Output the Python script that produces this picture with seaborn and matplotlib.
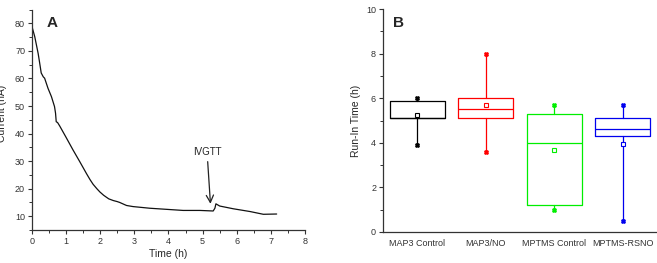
import numpy as np
import pandas as pd
import matplotlib
matplotlib.use("Agg")
import matplotlib.pyplot as plt
from matplotlib.ticker import MultipleLocator
import seaborn as sns

# Panel A: sensor current trace
time_h = [0.0, 0.08, 0.18, 0.22, 0.27, 0.33, 0.37, 0.47, 0.57, 0.66, 0.69, 0.71, 0.75,
          0.81, 1.0, 1.2, 1.4, 1.5, 1.6, 1.7, 1.79, 1.9, 1.99, 2.1, 2.18, 2.25, 2.38,
          2.5, 2.57, 2.77, 2.96, 3.45, 3.94, 4.43, 4.92, 5.31, 5.36, 5.39, 5.5, 5.9,
          6.39, 6.78, 7.17]
current_na = [78.8, 75.2, 69.1, 66.0, 62.0, 60.6, 60.1, 56.4, 53.4, 49.8, 47.4, 44.3, 44.0,
              42.8, 38.6, 34.1, 29.8, 27.6, 25.4, 23.3, 21.6, 20.0, 18.8, 17.6, 16.9, 16.3, 15.7,
              15.3, 15.0, 13.9, 13.5, 12.9, 12.5, 12.1, 12.1, 11.9, 12.9, 14.5, 13.7, 12.7,
              11.7, 10.7, 10.8]

# Panel B: run-in time box statistics
groups = ["MAP3 Control", "MAP3/NO", "MPTMS Control", "MPTMS-RSNO"]
colors = ["#000000", "#ff0000", "#00ee00", "#0000ee"]
whisker_low = [3.9, 3.6, 1.0, 0.5]
q1 = [5.1, 5.1, 1.2, 4.3]
median = [5.1, 5.5, 4.0, 4.6]
q3 = [5.9, 6.0, 5.3, 5.1]
whisker_high = [6.0, 8.0, 5.7, 5.7]
mean = [5.25, 5.7, 3.7, 3.95]

sns.set_style("ticks")
plt.rcParams["font.family"] = ["Liberation Sans", "DejaVu Sans"]

fig = plt.figure(figsize=(6.57, 2.63), dpi=100)
axA = fig.add_axes([0.0487, 0.1255, 0.4155, 0.838])
axB = fig.add_axes([0.583, 0.118, 0.417, 0.847])

# ---- Panel A
df = pd.DataFrame({"t": time_h, "i": current_na})
sns.lineplot(data=df, x="t", y="i", ax=axA, color="#111111", linewidth=0.9)
axA.set_xlim(0, 8)
axA.set_ylim(5, 85)
axA.set_xticks(range(0, 9))
axA.set_yticks(range(10, 81, 10))
axA.xaxis.set_minor_locator(MultipleLocator(0.5))
axA.yaxis.set_minor_locator(MultipleLocator(5))
axA.set_xlabel("Time (h)", fontsize=7.5, labelpad=2)
axA.set_ylabel("Current (nA)", fontsize=7.5)
axA.yaxis.set_label_coords(-0.09, 0.53)
axA.annotate("IVGTT", xy=(5.23, 14.5), xytext=(5.13, 31.5), fontsize=7,
             ha="center", va="bottom",
             arrowprops=dict(arrowstyle="->", color="#222222", lw=0.9,
                             shrinkA=1, shrinkB=0, mutation_scale=13))
axA.text(0.6, 80, "A", fontsize=11, fontweight="bold", ha="center", va="center")
sns.despine(ax=axA)

# ---- Panel B
pos = np.arange(len(groups))
for k in range(len(groups)):
    c = colors[k]
    s = dict(label=groups[k], whislo=whisker_low[k], q1=q1[k], med=median[k],
             q3=q3[k], whishi=whisker_high[k], mean=mean[k], fliers=[])
    axB.bxp([s], positions=[pos[k]], widths=0.8, showmeans=True, showcaps=False,
            boxprops=dict(color=c, linewidth=0.9),
            whiskerprops=dict(color=c, linewidth=0.9),
            medianprops=dict(color=c, linewidth=0.9),
            meanprops=dict(marker="s", markersize=2.6, markerfacecolor="white",
                           markeredgecolor=c, markeredgewidth=0.8))
    axB.plot([pos[k], pos[k]], [whisker_low[k], whisker_high[k]], ls="none",
             marker="X", markersize=2.6, color=c)
axB.set_xlim(-0.5, 3.5)
axB.set_ylim(0, 10)
axB.set_xticks(pos)
axB.set_xticklabels(groups)
axB.set_yticks(range(0, 11, 2))
axB.yaxis.set_minor_locator(MultipleLocator(1))
axB.set_ylabel("Run-In Time (h)", fontsize=7.5, labelpad=4)
axB.text(-0.28, 9.4, "B", fontsize=11, fontweight="bold", ha="center", va="center")
sns.despine(ax=axB)

for ax in (axA, axB):
    ax.tick_params(axis="both", which="major", labelsize=6.5, length=3, width=0.8,
                   color="#333333", labelcolor="#333333", pad=2)
    ax.tick_params(axis="both", which="minor", length=2, width=0.7, color="#333333")
    for sp in ax.spines.values():
        sp.set_linewidth(0.9)
        sp.set_color("#333333")
axB.tick_params(axis="x", length=0, pad=5, labelsize=6.5)
axB.tick_params(axis="x", which="minor", length=0)

fig.savefig("out.png", dpi=100)
